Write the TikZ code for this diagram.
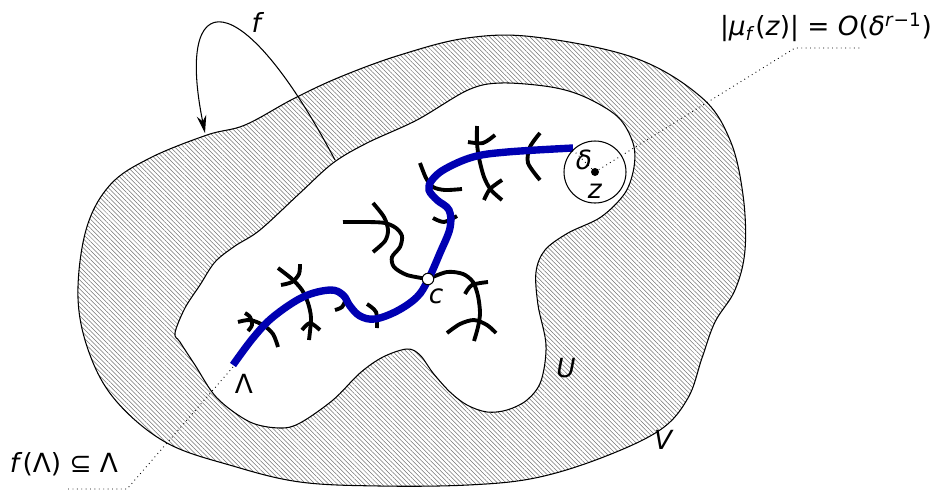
\documentclass[tikz,border=0pt]{standalone}
\usepackage{fontspec}
\setmainfont{DejaVu Sans}[ItalicFont={DejaVu Sans Oblique}]
\usetikzlibrary{arrows.meta, patterns.meta}
\definecolor{lamblue}{RGB}{0,0,178}
\tikzstyle{every node}=[font=\fontsize{15}{17}\selectfont]
\tikzstyle{region}=[draw=black, line width=0.6pt, even odd rule, pattern={Lines[angle=-45,distance=1.8pt,line width=0.3pt]}, pattern color=black!55]
\tikzstyle{lam}=[draw=lamblue, line width=4.2pt]
\tikzstyle{twig}=[draw=black, line width=2.2pt]
\tikzstyle{guide}=[dotted, line width=0.5pt]
\newcommand{\vr}[1]{\textit{#1}}

\begin{document}
\begin{tikzpicture}[x=0.02cm, y=-0.02cm, >=Stealth]
\useasboundingbox (0,0) rectangle (936,491);

\path[region]
  plot[smooth cycle, tension=0.6] coordinates {(78,298) (86,230) (110,185) (150,158) (207,135) (245,125) (293,99) (340,77) (400,55) (467,38) (535,37) (635,58) (701,97) (730,140) (743,195) (745,250) (735,290) (715,322) (702,358) (688,398) (660,430) (601,458) (535,478) (468,485) (380,486) (300,482) (233,466) (167,443) (117,402) (90,355)}
  plot[smooth cycle, tension=0.55] coordinates {(175,333) (185,308) (200,285) (215,262) (235,246) (260,230) (300,193) (333,163) (367,143) (417,120) (468,90) (501,83) (551,87) (585,97) (618,117) (633,143) (634,167) (625,193) (601,217) (568,233) (545,250) (536,272) (538,305) (546,345) (541,381) (527,400) (507,410) (487,412) (467,405) (450,392) (433,373) (420,355) (407,349) (383,357) (360,373) (333,400) (300,423) (280,428) (250,422) (217,398) (195,365) (180,342)};

% branches
\draw[twig] plot[smooth] coordinates {(428,279) (407,275) (394,267) (392,257) (400,247) (402,236) (396,228) (385,223) (368,222) (343,222)};
\draw[twig] plot[smooth] coordinates {(373,203) (384,217) (388,230) (385,241) (373,252)};
\draw[twig] plot[smooth] coordinates {(428,279) (447,272) (463,274) (473,282) (478,296) (480,313) (478,327) (474,341)};
\draw[twig] plot[smooth] coordinates {(465,294) (472,285) (488,282)};
\draw[twig] plot[smooth] coordinates {(447,333) (460,324) (474,320) (487,325) (496,333)};
\draw[twig] plot[smooth] coordinates {(420,163) (426,178) (433,187) (445,190) (462,189)};
\draw[twig] plot[smooth] coordinates {(433,218) (444,222) (457,216)};
\draw[twig] plot[smooth] coordinates {(477,126) (477,143) (479,158) (484,177) (491,190) (502,200)};
\draw[twig] plot[smooth] coordinates {(468,142) (483,143) (495,135)};
\draw[twig] plot[smooth] coordinates {(484,200) (490,189) (502,180)};
\draw[twig] plot[smooth] coordinates {(540,133) (530,147) (528,163) (540,180)};
\draw[twig] plot[smooth] coordinates {(278,268) (292,279) (302,290) (308,303) (311,318) (309,340)};
\draw[twig] plot[smooth] coordinates {(281,285) (292,282) (299,274) (300,264)};
\draw[twig] plot[smooth] coordinates {(302,330) (310,323) (320,330)};
\draw[twig] plot[smooth] coordinates {(238,322) (250,320) (263,325) (273,334) (278,347)};
\draw[twig] plot[smooth] coordinates {(245,313) (250,317) (252,325) (248,331)};
\draw[twig] plot[smooth] coordinates {(335,310) (342,307) (346,299)};
\draw[twig] plot[smooth] coordinates {(367,304) (376,312) (377,328)};

\draw[lam] plot[smooth, tension=0.6] coordinates {(233,365) (253,338) (273,317) (303,297) (330,290) (343,295) (350,306) (360,316) (375,319) (397,311) (417,297) (428,280) (440,253) (450,228) (449,210) (437,200) (429,190) (432,180) (445,169) (473,157) (507,152) (573,148)};

\coordinate (lamend) at (233,367);
\coordinate (zc) at (595,172);
\draw[line width=0.6pt] (zc) circle (31);
\coordinate (rim) at (573,150);
\coordinate (mubend) at (795,48);
\coordinate (muend) at (861,48);
\coordinate (lbend) at (127,489);
\coordinate (lend) at (67,489);
\coordinate (fstart) at (335,160);
\coordinate (fend) at (205,133);

\draw[guide] (zc) -- (rim);
\draw[guide] (zc) -- (mubend) -- (muend);
\draw[guide] (lamend) -- (lbend) -- (lend);
\draw[-{Stealth[length=10pt,width=5.5pt]}, line width=0.6pt] (fstart) .. controls (240,-20) and (175,-15) .. (fend);

\fill (zc) circle (4);
\node[circle, draw, fill=white, line width=0.6pt, inner sep=0pt, minimum size=6.5pt] (c) at (428,279) {};

\node (flabel) at (258,22) {\vr{f}};
\node (mulabel) at (826,27) {|\vr{μ}\textsubscript{\vr{f}}(\vr{z})| = \vr{O}(\vr{δ}\textsuperscript{\vr{r}−1})};
\node (lamlabel) at (64,464) {\vr{f}(Λ) ⊆ Λ};
\node (dlabel) at (584,160) {\vr{δ}};
\node (zlabel) at (595,191) {\vr{z}};
\node (clabel) at (436,296) {\vr{c}};
\node (Llabel) at (244,384) {Λ};
\node (Ulabel) at (566,368) {\vr{U}};
\node (Vlabel) at (664,440) {\vr{V}};
\end{tikzpicture}
\end{document}
